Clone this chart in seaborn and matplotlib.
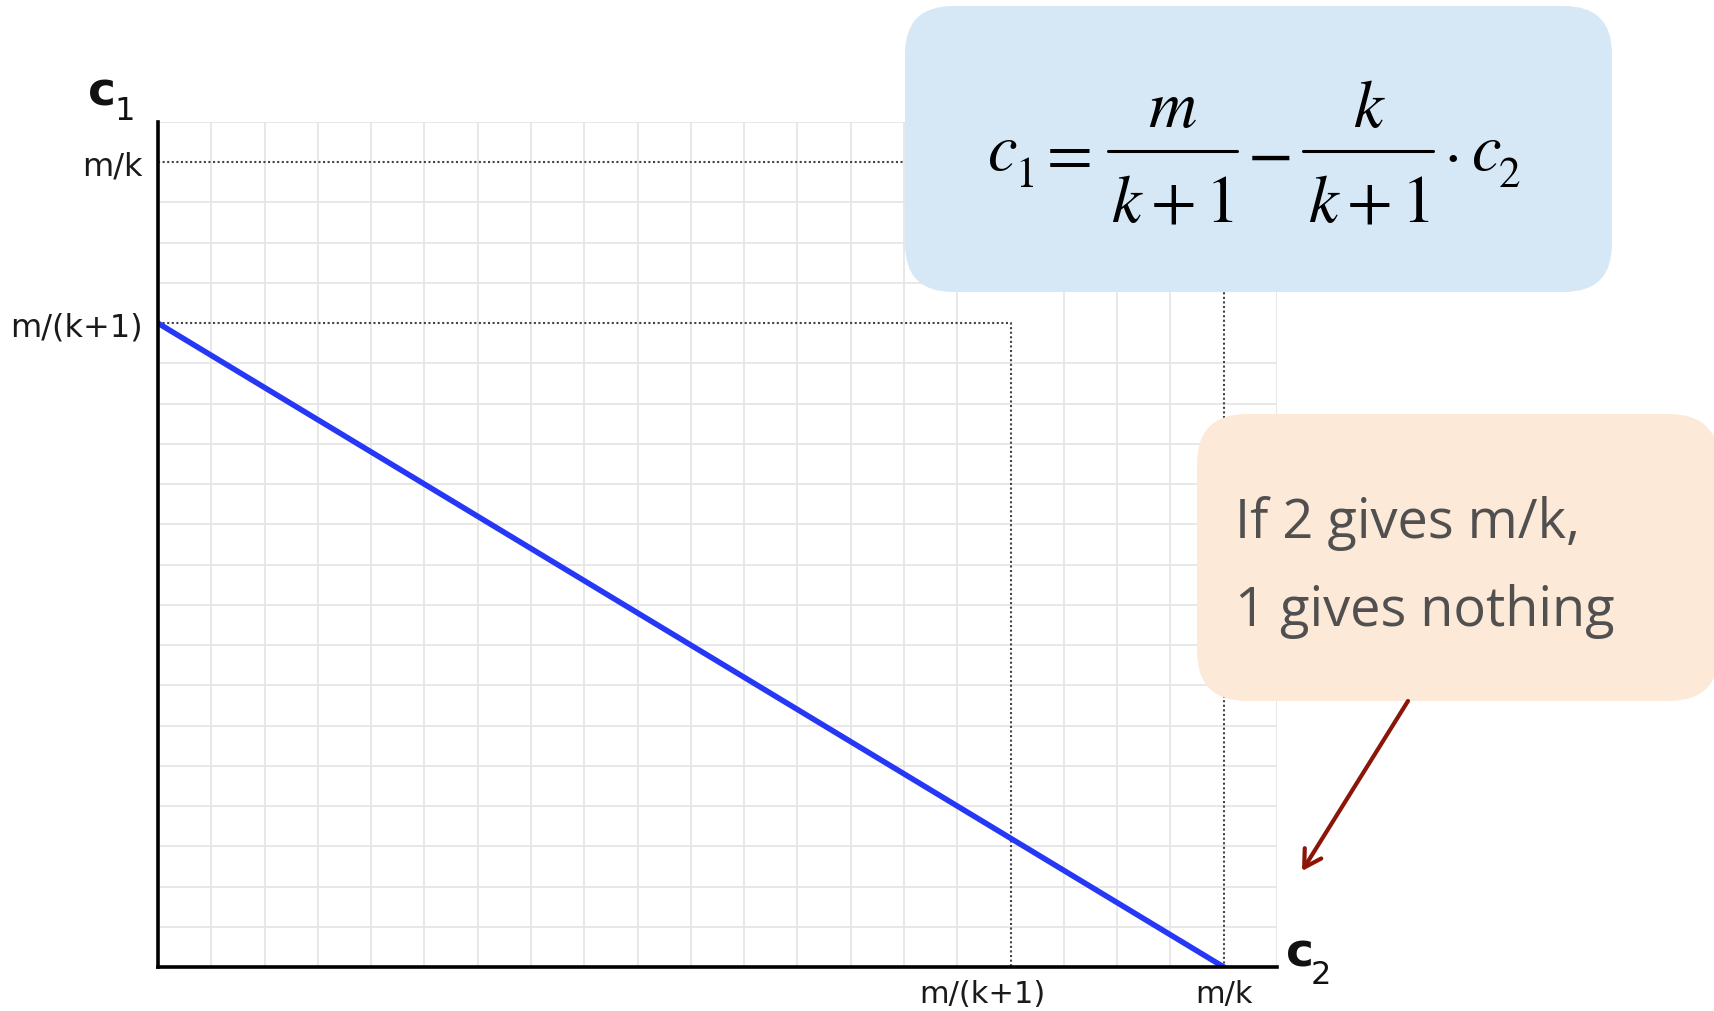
import matplotlib
matplotlib.use("Agg")
import matplotlib.pyplot as plt
import seaborn as sns
import pandas as pd
from matplotlib.patches import FancyBboxPatch, FancyArrowPatch
from matplotlib.lines import Line2D
from matplotlib.transforms import ScaledTranslation

# ---- data (grid units; k = 4, m = 80) ----
c2_line = [0, 20]
c1_line = [16, 0]
x_tick_vals = [16, 20]
x_tick_labels = ["m/(k+1)", "m/k"]
y_tick_vals = [16, 20]
y_tick_labels = ["m/(k+1)", "m/k"]
grid_max = 21
note_lines = ["If 2 gives m/k,", "1 gives nothing"]

sns.set_theme(style="whitegrid")
plt.rcParams["font.family"] = ["DejaVu Sans"]

W, H = 1715, 1012
fig = plt.figure(figsize=(W / 100, H / 100), dpi=100)
fig.patch.set_facecolor("white")
ax = fig.add_axes([158 / W, 1 - 968 / H, (1277 - 158) / W, (968 - 123) / H])
ax.set_facecolor("white")


def fx(px):
    return px / W


def fy(py):
    return 1 - py / H


df = pd.DataFrame({"c2": c2_line, "c1": c1_line})
sns.lineplot(data=df, x="c2", y="c1", ax=ax, color="#2638f5", linewidth=4.0,
             zorder=5, solid_capstyle="round")

# dotted guides
for v in x_tick_vals:
    ax.plot([0, v, v], [v, v, 0], color="#444444", linewidth=1.5,
            linestyle=(0, (1.0, 1.2)), zorder=3)

ax.set_xlim(0, grid_max)
ax.set_ylim(0, grid_max)
ax.set_xticks(range(0, grid_max + 1), minor=True)
ax.set_yticks(range(0, grid_max + 1), minor=True)
ax.grid(which="minor", color="#e6e6e6", linewidth=1.3)
ax.grid(which="major", visible=False)
ax.set_xticks(x_tick_vals)
ax.set_xticklabels(x_tick_labels)
ax.set_yticks(y_tick_vals)
ax.set_yticklabels(y_tick_labels)
ax.tick_params(which="both", length=0)
ax.tick_params(axis="x", pad=9, labelsize=22, labelcolor="#1a1a1a")
ax.tick_params(axis="y", pad=11, labelsize=23, labelcolor="#1a1a1a")
xl = ax.get_xticklabels()
xl[0].set_transform(xl[0].get_transform() + ScaledTranslation(-0.28, 0, fig.dpi_scale_trans))
ax.set_xlabel("")
ax.set_ylabel("")

for s in ["top", "right"]:
    ax.spines[s].set_visible(False)
for s in ["left", "bottom"]:
    ax.spines[s].set_color("black")
    ax.spines[s].set_linewidth(2.6)
    ax.spines[s].set_zorder(6)

# axis name labels
fig.text(fx(88), fy(106), "c", fontsize=34, fontweight="bold", color="#111111",
         ha="left", va="baseline")
fig.text(fx(114), fy(120), "1", fontsize=23, color="#111111",
         ha="left", va="baseline")
fig.text(fx(1286), fy(967), "c", fontsize=34, fontweight="bold", color="#111111",
         ha="left", va="baseline")
fig.text(fx(1311), fy(984), "2", fontsize=23, color="#111111",
         ha="left", va="baseline")

# blue equation box
blue = FancyBboxPatch((9.05, (H - 293) / 100), 7.07, 2.86,
                      boxstyle="round,pad=0,rounding_size=0.48",
                      transform=fig.dpi_scale_trans, facecolor="#d6e8f6",
                      edgecolor="none", zorder=10)
fig.add_artist(blue)

eq = dict(family="STIXGeneral", fontsize=48, color="black", zorder=11)
eqi = dict(eq, style="italic")
eqs = dict(eq, fontsize=31)
# c_1 =
fig.text(fx(988), fy(170), "c", ha="left", va="baseline", **eqi)
fig.text(fx(1015), fy(187), "1", ha="left", va="baseline", **eqs)
fig.text(fx(1070), fy(152), "=", ha="center", va="center_baseline", **eq)
# first fraction
fig.add_artist(Line2D([fx(1108), fx(1237)], [fy(152), fy(152)], color="black",
                      linewidth=2.2, transform=fig.transFigure, zorder=11))
fig.text(fx(1172), fy(127), "m", ha="center", va="baseline", **eqi)
fig.text(fx(1126), fy(222), "k", ha="center", va="baseline", **eqi)
fig.text(fx(1174), fy(222), "+", ha="center", va="baseline", **eq)
fig.text(fx(1222), fy(222), "1", ha="center", va="baseline", **eq)
fig.text(fx(1271), fy(152), "\u2212", ha="center", va="center_baseline", **eq)
# second fraction
fig.add_artist(Line2D([fx(1303), fx(1433)], [fy(152), fy(152)], color="black",
                      linewidth=2.2, transform=fig.transFigure, zorder=11))
fig.text(fx(1368), fy(127), "k", ha="center", va="baseline", **eqi)
fig.text(fx(1323), fy(222), "k", ha="center", va="baseline", **eqi)
fig.text(fx(1370), fy(222), "+", ha="center", va="baseline", **eq)
fig.text(fx(1418), fy(222), "1", ha="center", va="baseline", **eq)
fig.text(fx(1453), fy(152), "\u00b7", ha="center", va="center_baseline", **eq)
fig.text(fx(1472), fy(170), "c", ha="left", va="baseline", **eqi)
fig.text(fx(1499), fy(187), "2", ha="left", va="baseline", **eqs)

# orange note box
orange = FancyBboxPatch((11.97, (H - 702) / 100), 5.22, 2.87,
                        boxstyle="round,pad=0,rounding_size=0.5",
                        transform=fig.dpi_scale_trans, facecolor="#fde9d8",
                        edgecolor="none", zorder=10)
fig.add_artist(orange)
for i, line in enumerate(note_lines):
    fig.text(fx(1235), fy(538 + 88 * i), line, fontsize=39, family="Open Sans",
             color="#505050", ha="left", va="baseline", zorder=11)

# arrow
fig.add_artist(FancyArrowPatch(
    (fx(1408), fy(702)), (fx(1302), fy(872)), transform=fig.transFigure,
    arrowstyle="->,head_length=12,head_width=7", color="#8b1508",
    linewidth=3, zorder=11, shrinkA=0, shrinkB=0))

fig.savefig("out.png", dpi=100)
